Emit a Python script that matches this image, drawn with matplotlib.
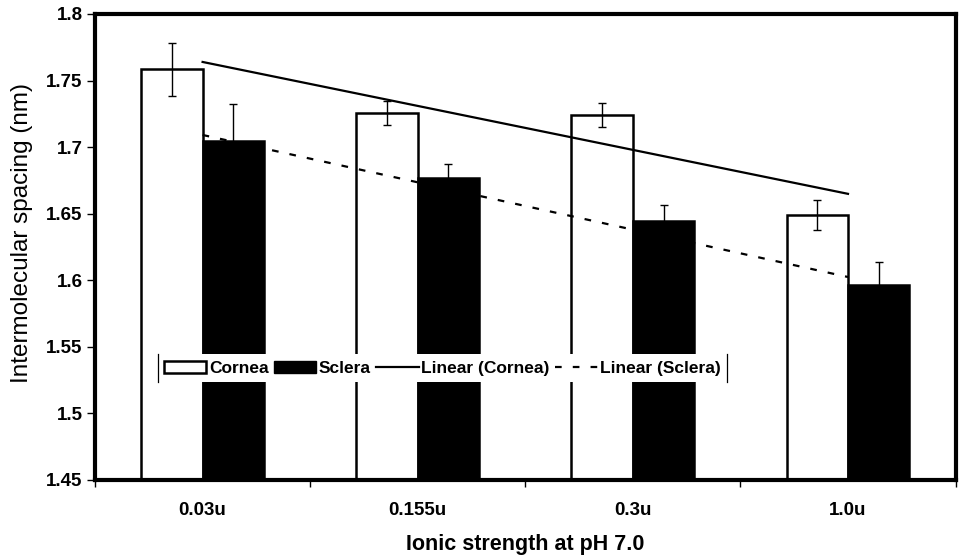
import numpy as np
import matplotlib

matplotlib.use("Agg")
import matplotlib.pyplot as plt  # noqa: E402
from matplotlib.lines import Line2D  # noqa: E402
from matplotlib.patches import Patch  # noqa: E402

plt.rcParams["font.family"] = ["Liberation Sans", "DejaVu Sans"]

categories = ["0.03u", "0.155u", "0.3u", "1.0u"]
cornea = [1.7585, 1.726, 1.7243, 1.649]
cornea_err = [0.020, 0.009, 0.009, 0.011]
sclera = [1.7046, 1.677, 1.6448, 1.5968]
sclera_err = [0.028, 0.010, 0.012, 0.017]
yticks = [1.45, 1.5, 1.55, 1.6, 1.65, 1.7, 1.75, 1.8]
ytick_labels = ["1.45", "1.5", "1.55", "1.6", "1.65", "1.7", "1.75", "1.8"]

fig = plt.figure(figsize=(9.59, 5.6), dpi=100)
ax = fig.add_axes([0.0991, 0.1429, 0.8973, 0.8321])

x = np.arange(len(categories))
w = 1 / 3.5  # Excel gap width 150 %

ax.bar(x - w / 2, cornea, w, color="white", edgecolor="black",
       linewidth=1.8, zorder=2)
ax.bar(x + w / 2, sclera, w, color="black", edgecolor="black",
       linewidth=1.8, zorder=2)
ax.errorbar(x - w / 2, cornea, yerr=cornea_err, fmt="none", ecolor="black",
            elinewidth=1, capsize=2.6, capthick=1, zorder=3)
ax.errorbar(x + w / 2, sclera, yerr=sclera_err, fmt="none", ecolor="black",
            elinewidth=1, capsize=2.6, capthick=1, zorder=3)

# linear trend lines (Excel style)
pc = np.polyfit(x, cornea, 1)
ps = np.polyfit(x, sclera, 1)
ax.plot(x, np.polyval(pc, x), color="black", linewidth=1.6, zorder=4)
ax.plot(x, np.polyval(ps, x), color="black", linewidth=1.6,
        dashes=(3, 5), zorder=4)

ax.set_ylim(1.45, 1.8)
ax.set_xlim(-0.5, 3.5)
ax.set_yticks(yticks)
ax.set_yticklabels(ytick_labels, fontsize=13.5, fontweight="bold")
ax.set_xticks(np.arange(len(categories) + 1) - 0.5)
ax.set_xticklabels([])
ax.set_xticks(x, minor=True)
ax.set_xticklabels(categories, minor=True, fontsize=13.5, fontweight="bold")
ax.tick_params(axis="x", which="minor", length=0, pad=16)
ax.tick_params(axis="x", which="major", length=5, width=1, direction="out")
ax.tick_params(axis="y", length=6, width=1, direction="out", pad=3)
for s in ax.spines.values():
    s.set_linewidth(3)
    s.set_zorder(5)

ax.set_ylabel("Intermolecular spacing (nm)", fontsize=17.5)
ax.yaxis.set_label_coords(-0.072, 0.53)
ax.set_xlabel("Ionic strength at pH 7.0", fontsize=15.5, fontweight="bold",
              labelpad=11)

handles = [
    Patch(facecolor="white", edgecolor="black", linewidth=1.8),
    Patch(facecolor="black", edgecolor="black"),
    Line2D([], [], color="black", linewidth=1.6),
    Line2D([], [], color="black", linewidth=1.6, dashes=(3, 5)),
]
labels = ["Cornea", "Sclera", "Linear (Cornea)", "Linear (Sclera)"]
leg = ax.legend(handles, labels, ncol=4, loc="center left",
                bbox_to_anchor=(0.073, 0.24), borderaxespad=0,
                prop={"size": 12.5, "weight": "bold"}, handlelength=2.45,
                handleheight=0.7, handletextpad=0.15, columnspacing=0.3,
                borderpad=0.35, fancybox=False, framealpha=1,
                facecolor="white", edgecolor="none")
leg.set_zorder(6)

# legend frame only shows its left and right edges
fig.canvas.draw()
bb = leg.get_frame().get_window_extent().transformed(fig.transFigure.inverted())
for xe in (bb.x0, bb.x1):
    fig.add_artist(Line2D([xe, xe], [bb.y0, bb.y1], transform=fig.transFigure,
                          color="black", linewidth=0.9, zorder=7))

fig.savefig("out.png", dpi=100)
plt.close(fig)
